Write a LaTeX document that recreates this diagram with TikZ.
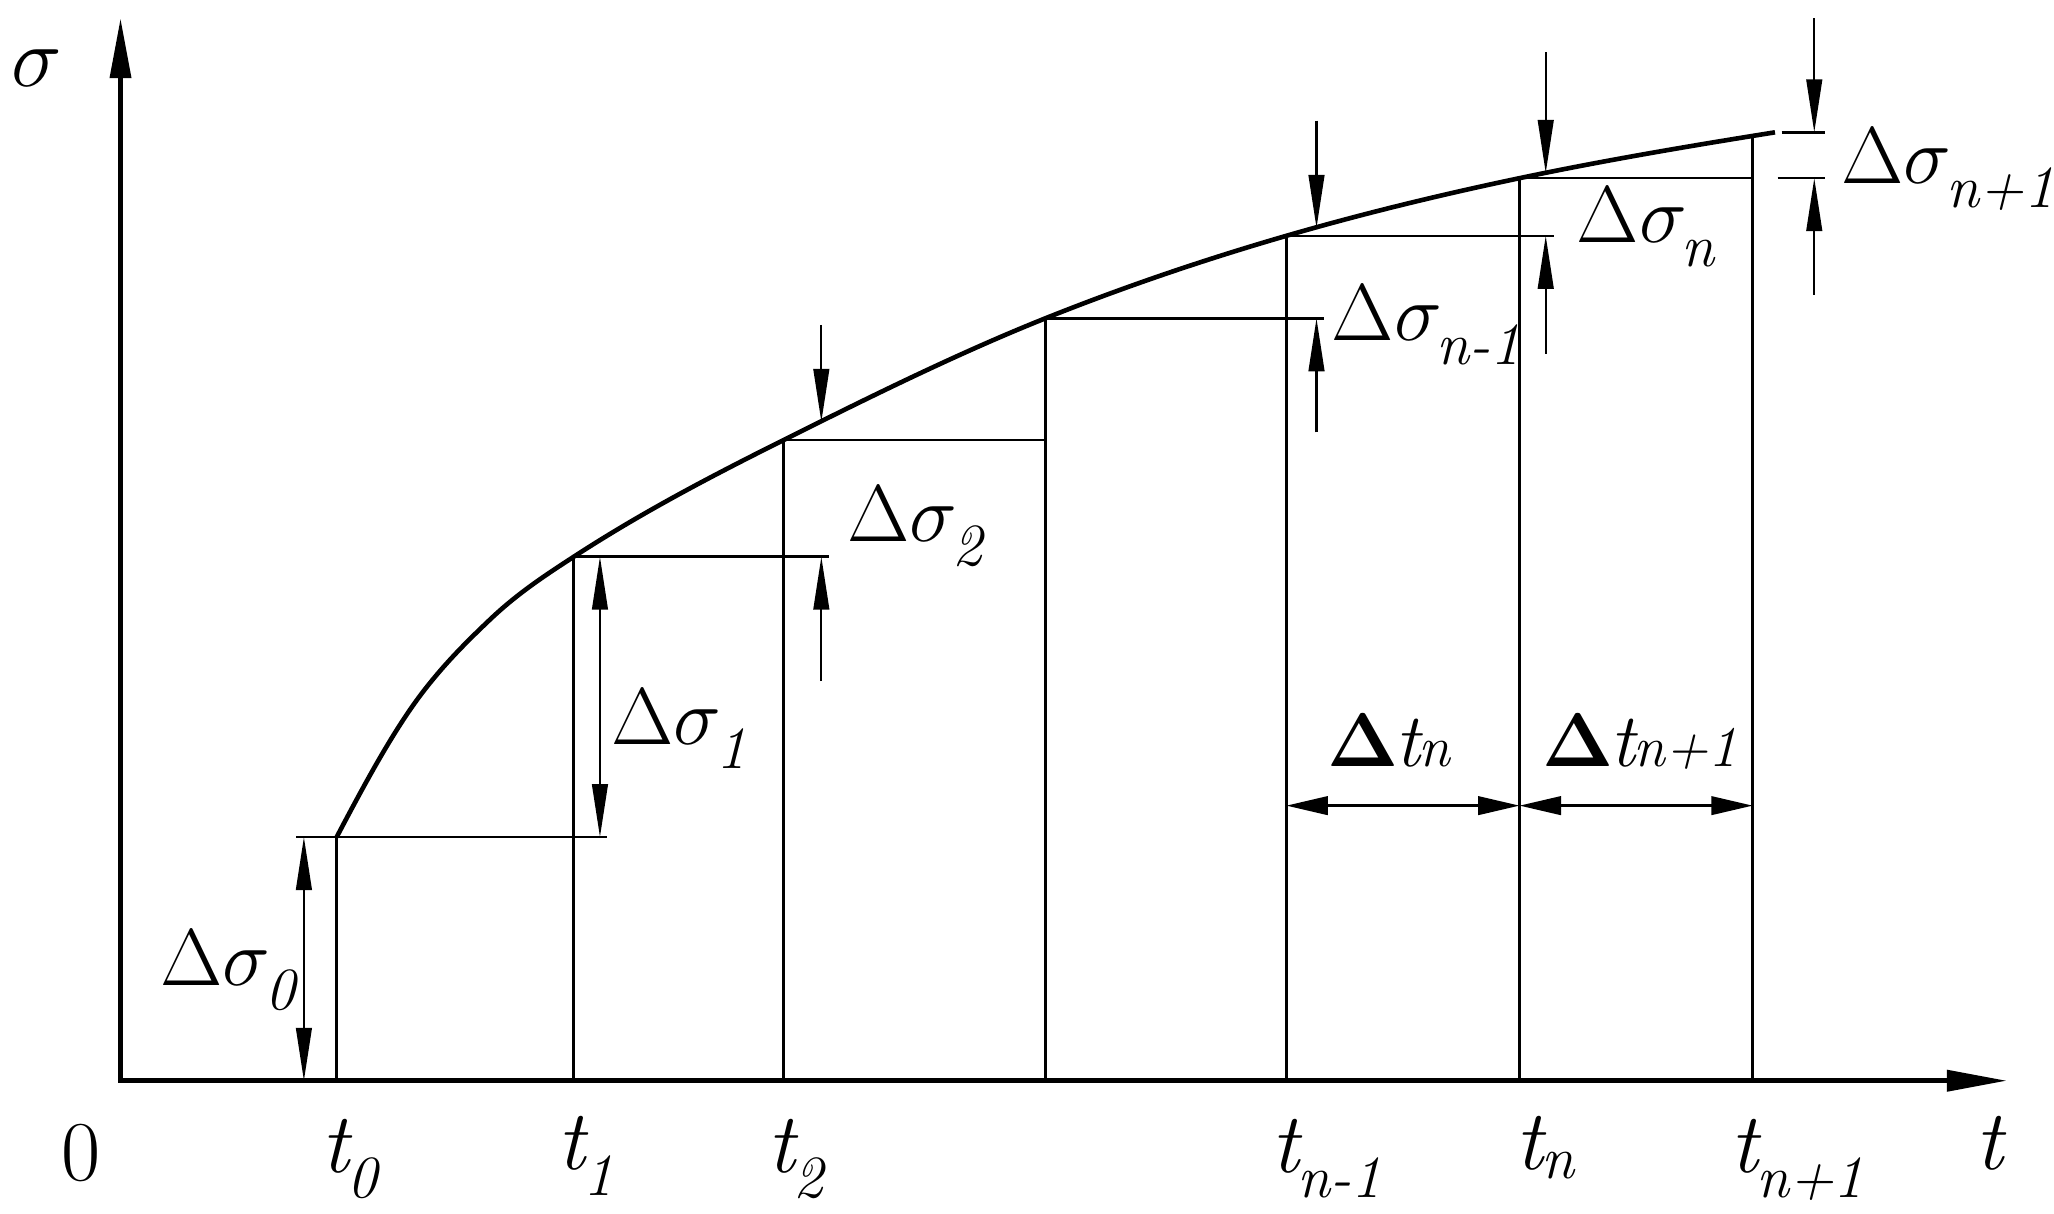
\RequirePackage{fix-cm}
\documentclass[tikz,border=0pt]{standalone}
\usetikzlibrary{arrows.meta}

\newcommand{\lbsub}[1]{\kern-0.06em\raisebox{-0.3em}{\fontsize{13}{14}\selectfont\itshape #1}}
\newcommand{\dsig}[1]{$\Delta\sigma$\lbsub{#1}}
\newcommand{\tsub}[1]{\textit{t}\lbsub{#1}}
\newcommand{\dtlab}[1]{$\mathbf{\Delta}$\kern-0.05em\textit{t}\kern-0.06em{\fontsize{12.5}{14}\selectfont\itshape #1}}

\begin{document}
\begin{tikzpicture}[x=0.01cm,y=-0.01cm,
  axis/.style={line width=1pt,-{Triangle[length=13pt,width=4.5pt]}},
  guide/.style={line width=0.55pt},
  curvestyle/.style={line width=1pt},
  dimarrow/.style={line width=0.5pt,-{Triangle[length=11.5pt,width=3.4pt]}},
  dimboth/.style={line width=0.5pt,{Triangle[length=11.5pt,width=3.4pt]}-{Triangle[length=11.5pt,width=3.4pt]}},
  dimt/.style={line width=0.6pt,{Triangle[length=9pt,width=4pt]}-{Triangle[length=9pt,width=4pt]}},
  lbl/.style={font=\fontsize{18.5}{20}\selectfont, inner sep=0pt},
  lblw/.style={lbl, anchor=base west},
  lbls/.style={lblw, font=\fontsize{17.5}{20}\selectfont},
  lblt/.style={lblw, font=\fontsize{16.5}{20}\selectfont}
]
\useasboundingbox (0,0) rectangle (1568,926);

% axes
\coordinate (O) at (92,825);
\coordinate (Ytop) at (92,14);
\coordinate (Xend) at (1532,825);
\draw[axis] (O) -- (Xend);
\draw[axis] (O) -- (Ytop);
\fill (90.3,823.3) rectangle (93.7,826.7);

% axis points
\coordinate (a0) at (257,825);
\coordinate (a1) at (438,825);
\coordinate (a2) at (598,825);
\coordinate (a3) at (798,825);
\coordinate (a4) at (982,825);
\coordinate (a5) at (1160,825);
\coordinate (a6) at (1338,825);

% curve points
\coordinate (c0) at (257,639);
\coordinate (q1) at (323,528);
\coordinate (q2) at (374,473);
\coordinate (c1) at (438,425);
\coordinate (c2) at (598,336);
\coordinate (c3) at (798,243);
\coordinate (c4) at (982,180);
\coordinate (c5) at (1160,136);
\coordinate (c6) at (1338,104);
\coordinate (cend) at (1355,101);

% curve
\draw[curvestyle] (c0)
  .. controls (279,597.2) and (301,556.6) .. (q1)
  .. controls (340,505.9) and (357,489.15) .. (q2)
  .. controls (395.33,452.73) and (416.67,438.87) .. (c1)
  .. controls (491.33,390.33) and (544.67,362.67) .. (c2)
  .. controls (664.67,302.67) and (731.33,269.67) .. (c3)
  .. controls (859.33,218.47) and (920.67,197.79) .. (c4)
  .. controls (1041.33,162.79) and (1100.67,148.46) .. (c5)
  .. controls (1225,122.35) and (1290,111.4) .. (cend);

% verticals
\draw[guide] (a0) -- (c0);
\draw[guide] (a1) -- (c1);
\draw[guide] (a2) -- (c2);
\draw[guide] (a3) -- (c3);
\draw[guide] (a4) -- (c4);
\draw[guide] (a5) -- (c5);
\draw[guide] (a6) -- (c6);

% horizontals
\coordinate (h0l) at (226,639);
\coordinate (h0r) at (463,639);
\draw[guide] (h0l) -- (h0r);
\coordinate (h1r) at (633,425);
\draw[guide] (c1) -- (h1r);
\coordinate (h2r) at (798,336);
\draw[guide] (c2) -- (h2r);
\coordinate (h3r) at (1011,243);
\draw[guide] (c3) -- (h3r);
\coordinate (h4r) at (1186,180);
\draw[guide] (c4) -- (h4r);
\coordinate (h5r) at (1338,136);
\draw[guide] (c5) -- (h5r);
\coordinate (k1l) at (1357,136);
\coordinate (k1r) at (1393,136);
\draw[guide] (k1l) -- (k1r);
\coordinate (k2l) at (1360,101);
\coordinate (k2r) at (1393,101);
\draw[guide] (k2l) -- (k2r);

% dimension arrows for sigma
\coordinate (d0t) at (232,639);
\coordinate (d0b) at (232,825);
\draw[dimboth] (d0t) -- (d0b);
\coordinate (d1t) at (458,425);
\coordinate (d1b) at (458,639);
\draw[dimboth] (d1t) -- (d1b);

\coordinate (d2s) at (627,248);
\coordinate (d2e) at (627,322);
\coordinate (d2u) at (627,520);
\coordinate (d2v) at (627,425);
\draw[dimarrow] (d2s) -- (d2e);
\draw[dimarrow] (d2u) -- (d2v);

\coordinate (d3s) at (1005,92);
\coordinate (d3e) at (1005,174);
\coordinate (d3u) at (1005,330);
\coordinate (d3v) at (1005,243);
\draw[dimarrow] (d3s) -- (d3e);
\draw[dimarrow] (d3u) -- (d3v);

\coordinate (d4s) at (1180,40);
\coordinate (d4e) at (1180,132);
\coordinate (d4u) at (1180,270);
\coordinate (d4v) at (1180,180);
\draw[dimarrow] (d4s) -- (d4e);
\draw[dimarrow] (d4u) -- (d4v);

\coordinate (d5s) at (1385,14);
\coordinate (d5e) at (1385,101);
\coordinate (d5u) at (1385,225);
\coordinate (d5v) at (1385,136);
\draw[dimarrow] (d5s) -- (d5e);
\draw[dimarrow] (d5u) -- (d5v);

% dimension arrows for t
\coordinate (t4) at (982,615);
\coordinate (t5) at (1160,615);
\coordinate (t6) at (1338,615);
\draw[dimt] (t4) -- (t5);
\draw[dimt] (t5) -- (t6);

% labels
\node[lbl] (lsig) at (28,52) {$\sigma$};
\node[lbl] (lzero) at (62,880) {0};
\node[lblw] (lt) at (1507,893) {\textit{t}};
\node[lblw] (lt0) at (245,895) {\tsub{0}};
\node[lblw] (lt1) at (425,893) {\tsub{1}};
\node[lblw] (lt2) at (585,895) {\tsub{2}};
\node[lblw] (ltn1) at (970,895) {\tsub{n-1}};
\node[lblw] (ltn) at (1156,893) {\textit{t}\kern-0.06em\raisebox{-0.1em}{\fontsize{13}{14}\selectfont\itshape n}};
\node[lblw] (ltnp) at (1320,895) {\tsub{n+1}};

\node[lbls] (ls0) at (122,752) {\dsig{0}};
\node[lbls] (ls1) at (466,568) {\dsig{1}};
\node[lbls] (ls2) at (646,413) {\dsig{2}};
\node[lbls] (lsn1) at (1016,260) {\dsig{n-1}};
\node[lbls] (lsn) at (1203,185) {\dsig{n}};
\node[lbls] (lsnp) at (1405,140) {\dsig{n+1}};

\node[lblt] (ldtn) at (1013,585) {\dtlab{n}};
\node[lblt] (ldtnp) at (1177,585) {\dtlab{n+1}};
\end{tikzpicture}
\end{document}
